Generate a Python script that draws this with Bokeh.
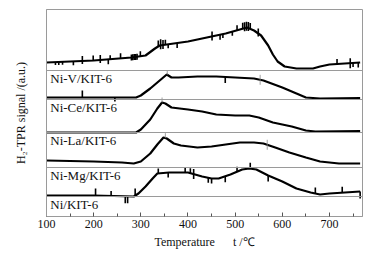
import numpy as np
from bokeh.plotting import figure
from bokeh.models import FixedTicker, Span, Label
from bokeh.embed import file_html
from bokeh.resources import INLINE

# ---- data (temperature in degC, signal in arbitrary units) ----
names = ["Ni-V/KIT-6", "Ni-Ce/KIT-6", "Ni-La/KIT-6", "Ni-Mg/KIT-6", "Ni/KIT-6"]
offsets = [146, 117, 84, 49, 20]          # vertical stacking baseline of each trace

t_v = [100, 200, 280, 310, 330, 340, 370, 400, 440, 480, 510, 525, 540, 555, 570, 580, 590, 605, 630, 665, 680, 700, 765]
s_v = [8, 10, 13, 15, 22, 25, 27, 29, 33, 37, 41, 43, 40, 35, 25, 16, 9, 4, 2, 2, 4, 6, 8]

t_ce = [100, 200, 290, 300, 320, 340, 355, 365, 380, 420, 460, 500, 540, 560, 600, 630, 650, 680, 765]
s_ce = [2, 2, 2, 4, 11, 19, 25, 22, 22, 23, 23, 22, 21, 19, 12, 6, 2, 1, 1.5]

t_la = [100, 200, 290, 300, 320, 335, 345, 352, 365, 400, 430, 460, 500, 530, 550, 580, 620, 650, 670, 765]
s_la = [0, 0, 0, 3, 13, 24, 30, 29, 25, 23, 21, 18, 17, 17, 15, 10, 6, 2, 1, 1.5]

t_mg = [100, 200, 260, 285, 300, 320, 335, 348, 355, 370, 385, 420, 450, 480, 510, 540, 560, 585, 615, 650, 680, 720, 765]
s_mg = [7, 6, 5, 4, 6, 14, 23, 30, 29, 24, 22, 20, 21, 23, 25, 25, 24, 20, 15, 10, 6, 4, 4]

t_ni = [100, 200, 285, 295, 310, 325, 335, 360, 400, 430, 450, 465, 490, 515, 530, 545, 570, 600, 630, 660, 680, 700, 765]
s_ni = [1, 1, 0, 3, 10, 18, 23, 24, 24, 20, 18, 18, 22, 27, 28, 27, 21, 15, 8, 4, 2, 3, 5]

# noise spikes: temperature, depth below trace, height above trace
spk_v_t = [119, 126, 134, 157, 176, 199, 214, 231, 235, 257, 280, 283, 286, 289, 292, 299, 337, 342, 347, 352, 358, 377,
           451, 468, 474, 494, 504, 516, 520, 524, 528, 532, 549, 716, 744, 750, 761]
spk_v_d = [3, 3, 3, 4, 3, 0, 3, 5, 0, 0, 3, 3, 3, 3, 3, 0, 0, 4, 4, 0, 4, 5,
           4, 5, 4, 4, 0, 0, 3, 3, 3, 0, 3, 0, 5, 4, 5]
spk_v_u = [0, 0, 0, 0, 5, 5, 5, 0, 4, 5, 3, 3, 3, 3, 3, 5, 6, 6, 5, 5, 0, 0,
           5, 0, 0, 0, 5, 6, 6, 6, 6, 6, 5, 5, 5, 0, 0]
spk_ce_t = [176, 245, 479]
spk_ce_d = [0, 4, 6]
spk_ce_u = [7, 0, 0]
spk_la_t = []
spk_la_d = []
spk_la_u = []
spk_mg_t = []
spk_mg_d = []
spk_mg_u = []
spk_ni_t = [204, 237, 267, 272, 288, 337, 358, 394, 405, 412, 443, 450, 479, 504, 532, 570, 670, 727, 765]
spk_ni_d = [0, 0, 7, 7, 0, 0, 5, 0, 0, 5, 5, 5, 6, 0, 0, 6, 0, 0, 7]
spk_ni_u = [7, 5, 0, 0, 7, 5, 0, 5, 5, 5, 0, 0, 0, 5, 6, 0, 6, 6, 0]

# faint thin marks (grey) : series index, temperature, depth, height
faint_idx = [1, 1, 2, 3, 3]
faint_t = [356, 553, 345, 352, 568]
faint_d = [0, 5, 0, 0, 5]
faint_u = [4, 5, 5, 5, 5]

xticks = [100, 200, 300, 400, 500, 600, 700]
xminor = [150, 250, 350, 450, 550, 650, 750]

series = [
    (t_v, s_v, spk_v_t, spk_v_d, spk_v_u),
    (t_ce, s_ce, spk_ce_t, spk_ce_d, spk_ce_u),
    (t_la, s_la, spk_la_t, spk_la_d, spk_la_u),
    (t_mg, s_mg, spk_mg_t, spk_mg_d, spk_mg_u),
    (t_ni, s_ni, spk_ni_t, spk_ni_d, spk_ni_u),
]

SERIF = "Liberation Serif"
GREY = "#9a9a9a"

p = figure(width=370, height=252, x_range=(100, 770), y_range=(0, 207),
           output_backend="svg", toolbar_location=None,
           min_border_left=46, min_border_right=8, min_border_top=9, min_border_bottom=36)
p.background_fill_color = "white"
p.border_fill_color = "white"
p.outline_line_color = GREY
p.xgrid.visible = False
p.ygrid.visible = False

# separators (baselines)
for off in offsets:
    p.add_layout(Span(location=off, dimension="width", line_color=GREY, line_width=1))

for i, (tt, ss, st, sd, su) in enumerate(series):
    off = offsets[i]
    y = np.array(ss, dtype=float) + off
    p.line(tt, y, line_color="black", line_width=2.2)
    if st:
        base = np.interp(st, tt, np.array(ss, dtype=float)) + off
        p.segment(x0=st, y0=base - np.array(sd), x1=st, y1=base + np.array(su),
                  line_color="black", line_width=1.6)
    p.add_layout(Label(x=108, y=off - 0.5, text=names[i], text_baseline="top", text_align="left",
                       text_font=SERIF, text_font_size="13px", text_color="#111111"))

fb, ft0, ft1 = [], [], []
for k, idx in enumerate(faint_idx):
    tt, ss = series[idx][0], series[idx][1]
    b = float(np.interp(faint_t[k], tt, ss)) + offsets[idx]
    fb.append(faint_t[k])
    ft0.append(b - faint_d[k])
    ft1.append(b + faint_u[k])
p.segment(x0=fb, y0=ft0, x1=fb, y1=ft1, line_color="#888888", line_width=0.8)

# axes
xa = p.xaxis[0]
xa.ticker = FixedTicker(ticks=xticks, minor_ticks=xminor)
xa.major_tick_in = 4
xa.major_tick_out = 0
xa.minor_tick_in = 3
xa.minor_tick_out = 0
xa.major_tick_line_color = "#555555"
xa.minor_tick_line_color = "#555555"
xa.axis_line_color = GREY
xa.major_label_text_font = SERIF
xa.major_label_text_font_size = "12px"
xa.major_label_text_color = "#111111"
xa.major_label_standoff = 3
xa.axis_label = "Temperature\u2002\u2002\u2002t /\u2103"
xa.axis_label_text_font = SERIF
xa.axis_label_text_font_size = "12px"
xa.axis_label_text_font_style = "normal"
xa.axis_label_text_color = "#111111"
xa.axis_label_standoff = 4

ya = p.yaxis[0]
ya.ticker = FixedTicker(ticks=[])
ya.major_tick_line_color = None
ya.minor_tick_line_color = None
ya.major_tick_in = 0
ya.major_tick_out = 0
ya.major_label_standoff = 0
ya.axis_line_color = GREY
ya.axis_label = "H\u2082-TPR signal /(a.u.)"
ya.axis_label_text_font = SERIF
ya.axis_label_text_font_size = "12px"
ya.axis_label_text_font_style = "normal"
ya.axis_label_text_color = "#111111"
ya.axis_label_standoff = 19

open("out.html", "w").write(file_html(p, INLINE))
